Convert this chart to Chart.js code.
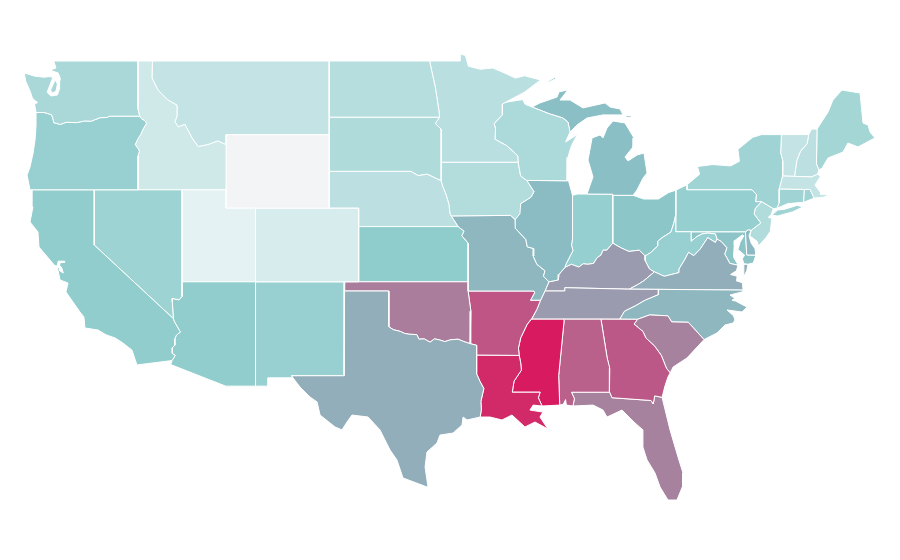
<!DOCTYPE html>
<html lang="en">
<head>
  <meta charset="UTF-8" />
  <title>US states choropleth</title>
  <script src="https://cdn.jsdelivr.net/npm/chart.js"></script>
  <style>
    html, body { margin: 0; padding: 0; background: #fff; }
    canvas { display: block; }
  </style>
</head>
<body>
  <canvas id="myChart" width="900" height="560"></canvas>
  <script>
    // shared borders, [lon, lat]
    const columbia = [[-123.95,46.2],[-123.4,46.2],[-123.17,46.15],[-122.9,46.08],[-122.8,45.87],[-122.75,45.65],[-122.3,45.55],[-121.9,45.67],[-121.2,45.65],[-120.65,45.74],[-120.2,45.73],[-119.6,45.92],[-119.12,45.93],[-118.98,46.0],[-116.92,46.0]];
    const snake = [[-116.92,46.0],[-116.78,45.85],[-116.55,45.75],[-116.46,45.6],[-116.67,45.32],[-116.85,45.0],[-117.05,44.75],[-117.22,44.45],[-117.03,44.25],[-116.93,44.1],[-117.03,43.83],[-117.03,42.0]];
    const idahoMontana = [[-111.05,44.45],[-111.6,44.65],[-112.3,44.45],[-112.95,44.35],[-113.36,44.82],[-113.84,45.55],[-114.3,45.42],[-114.52,45.7],[-114.38,46.0],[-114.38,46.6],[-115.0,46.88],[-115.67,47.42],[-116.08,48.08],[-116.05,49.0]];
    const coloradoRiver = [[-114.63,35.0],[-114.57,34.85],[-114.15,34.27],[-114.42,34.1],[-114.53,33.9],[-114.53,33.55],[-114.72,33.4],[-114.7,33.1],[-114.5,33.0],[-114.72,32.72]];
    const nevadaArizona = [[-114.04,37.0],[-114.04,36.2],[-114.25,36.02],[-114.72,36.1],[-114.7,35.9],[-114.63,35.0]];
    const redRiver = [[-100.0,34.56],[-99.7,34.4],[-99.2,34.3],[-98.95,34.2],[-98.6,34.15],[-98.1,34.13],[-97.95,33.88],[-97.6,33.9],[-97.2,33.72],[-96.9,33.9],[-96.6,33.85],[-96.2,33.75],[-95.8,33.85],[-95.3,33.88],[-94.9,33.75],[-94.48,33.64]];
    const sabine = [[-94.04,33.02],[-94.04,32.0],[-93.82,31.6],[-93.55,31.2],[-93.75,30.5],[-93.72,30.05],[-93.8,29.65]];
    const redRiverNorth = [[-97.23,49.0],[-97.1,48.5],[-96.85,47.6],[-96.6,46.3],[-96.56,45.94],[-96.85,45.6],[-96.45,45.3],[-96.45,43.5]];
    const stCroix = [[-92.3,46.66],[-92.29,46.08],[-92.85,45.6],[-92.75,45.3],[-92.8,44.75],[-92.0,44.4],[-91.25,43.85],[-91.22,43.5]];
    const upperMiss = [[-91.22,43.5],[-91.05,42.75],[-90.64,42.51],[-90.15,41.9],[-90.35,41.6],[-91.05,41.25],[-91.1,40.7],[-91.42,40.38]];
    const midMiss = [[-91.42,40.38],[-91.4,39.9],[-90.7,39.3],[-90.6,38.9],[-90.15,38.8],[-90.2,38.4],[-89.95,37.95],[-89.4,37.6],[-89.5,37.3],[-89.13,37.0]];
    const lowerMissA = [[-89.7,36.0],[-89.95,35.5],[-90.3,35.0],[-90.6,34.7],[-91.05,33.95],[-91.2,33.4],[-91.15,33.0]];
    const lowerMissB = [[-91.15,33.0],[-91.05,32.6],[-91.0,32.2],[-91.5,31.6],[-91.62,31.0],[-89.73,31.0],[-89.85,30.7],[-89.6,30.25]];
    const ohioEast = [[-80.52,40.64],[-80.65,40.2],[-80.85,39.7],[-81.45,39.4],[-81.75,39.2],[-81.75,38.95],[-82.2,38.6],[-82.6,38.4]];
    const ohioMid = [[-82.6,38.4],[-83.0,38.72],[-83.7,38.65],[-84.25,38.85],[-84.8,39.1]];
    const ohioWest = [[-84.8,39.1],[-85.2,38.72],[-85.45,38.72],[-85.6,38.45],[-85.87,38.3],[-86.1,38.0],[-86.5,37.95],[-86.8,37.98],[-87.1,37.8],[-87.6,37.95],[-88.05,37.78]];
    const ohioLow = [[-88.05,37.78],[-88.45,37.4],[-88.5,37.1],[-89.13,37.0]];
    const wabash = [[-88.05,37.78],[-87.95,38.0],[-87.5,38.7],[-87.6,39.0],[-87.53,39.35],[-87.53,41.7]];
    const kyVa = [[-83.68,36.6],[-83.1,36.85],[-82.7,37.05],[-81.97,37.54]];
    const vaWv = [[-81.97,37.54],[-81.3,37.3],[-80.3,37.5],[-80.3,37.7],[-79.95,38.15],[-79.65,38.6],[-79.3,38.42],[-78.87,38.77],[-78.35,39.4],[-77.83,39.14],[-77.72,39.32]];
    const potomac = [[-77.72,39.32],[-77.45,39.2],[-77.05,38.85],[-77.2,38.5],[-77.05,38.3],[-76.85,38.0],[-76.3,37.9]];
    const wvMd = [[-77.72,39.32],[-77.83,39.6],[-78.35,39.65],[-78.75,39.6],[-79.1,39.45],[-79.48,39.2],[-79.48,39.72]];
    const tnNc = [[-81.68,36.59],[-81.7,36.3],[-82.6,36.0],[-83.25,35.7],[-84.0,35.4],[-84.32,34.97]];
    const ncSc = [[-83.12,34.96],[-82.3,35.2],[-81.05,35.15],[-80.8,34.82],[-79.67,34.8],[-78.6,33.86]];
    const savannah = [[-83.12,34.96],[-83.35,34.7],[-83.05,34.5],[-82.75,34.3],[-82.55,33.95],[-81.95,33.5],[-81.5,33.0],[-81.15,32.3],[-80.9,32.05]];
    const gaFl = [[-81.45,30.72],[-81.95,30.8],[-82.05,30.36],[-82.2,30.55],[-84.85,30.7],[-85.0,31.0]];
    const chattahoochee = [[-85.0,31.0],[-85.05,31.55],[-85.0,32.3],[-85.18,32.87],[-85.6,34.97]];
    const alMs = [[-88.2,34.97],[-88.1,34.9],[-88.47,31.9],[-88.4,30.3]];
    const paNj = [[-74.7,41.36],[-75.13,40.98],[-75.2,40.68],[-74.75,40.2],[-75.4,39.8]];
    const vtNh = [[-71.5,45.0],[-71.6,44.5],[-72.05,44.1],[-72.3,43.6],[-72.46,42.73]];
    const nyVt = [[-73.35,45.0],[-73.4,44.0],[-73.25,43.55],[-73.27,42.75]];

    const back = line => [...line].reverse();

    // one or more outlines per state
    const WA = [
      [[-124.75,48.35],[-124.0,48.17],[-123.4,48.12],[-123.1,48.15],[-122.8,48.13],[-123.1,47.5],[-123.2,47.3],[-122.95,47.1],[-122.5,47.15],[-122.35,47.5],[-122.35,47.85],[-122.3,48.05],[-122.45,48.35],[-123.0,48.5],[-122.6,48.62],[-122.75,49.0],[-117.03,49.0],[-117.04,46.42],...back(columbia),[-124.05,46.65],[-123.85,46.75],[-124.1,46.9],[-124.2,47.0],[-124.35,47.35],[-124.65,47.9]],
      [[-122.65,47.98],[-122.5,47.75],[-122.6,47.35],[-122.9,47.25],[-122.95,47.45]]
    ];
    const OR = [[...columbia,...snake,[-120.0,42.0],[-124.36,42.0],[-124.56,42.8],[-124.36,43.24],[-124.15,44.0],[-124.02,44.7],[-123.95,45.5]]];
    const CA = [[[-124.21,42.0],[-120.0,42.0],[-120.0,39.0],...coloradoRiver,[-117.1,32.48],[-117.44,33.29],[-118.1,33.7],[-118.59,33.95],[-119.2,34.12],[-119.74,34.38],[-120.63,34.49],[-120.7,35.09],[-120.97,35.36],[-121.92,36.45],[-121.78,36.93],[-122.32,37.1],[-122.5,37.78],[-122.38,37.8],[-122.35,37.6],[-122.1,37.48],[-122.2,37.75],[-122.35,37.9],[-122.3,38.05],[-122.0,38.05],[-122.0,38.12],[-122.45,38.12],[-122.52,37.85],[-122.7,37.9],[-123.0,38.18],[-123.75,38.89],[-123.82,39.71],[-124.36,40.25],[-124.16,41.07],[-124.22,41.88]]];
    const NV = [[[-120.0,42.0],[-114.04,42.0],...nevadaArizona,[-120.0,39.0]]];
    const AZ = [[[-114.04,37.0],[-109.05,37.0],[-109.05,31.33],[-111.07,31.33],[-114.81,32.5],...back(coloradoRiver),...back(nevadaArizona)]];
    const UT = [[[-114.04,42.0],[-111.05,42.0],[-111.05,41.0],[-109.05,41.0],[-109.05,37.0],[-114.04,37.0]]];
    const ID = [[[-117.03,42.0],[-111.05,42.0],...idahoMontana,[-117.03,49.0],[-117.04,46.42],...snake]];
    const MT = [[[-116.05,49.0],[-104.05,49.0],[-104.05,45.0],[-111.05,45.0],...idahoMontana]];
    const WY = [[[-111.05,45.0],[-104.05,45.0],[-104.05,41.0],[-111.05,41.0]]];
    const CO = [[[-109.05,41.0],[-102.05,41.0],[-102.05,37.0],[-109.05,37.0]]];
    const NM = [[[-109.05,37.0],[-103.0,37.0],[-103.04,31.9],[-106.62,31.9],[-106.53,31.78],[-108.2,31.78],[-108.2,31.33],[-109.05,31.33]]];
    const TX = [[[-106.62,31.9],[-103.04,31.9],[-103.04,36.5],[-100.0,36.5],...redRiver,[-94.04,33.55],...sabine,[-94.69,29.49],[-94.96,29.65],[-95.03,29.22],[-95.64,28.78],[-96.53,28.67],[-96.73,28.24],[-97.41,27.75],[-97.54,26.93],[-97.34,25.85],[-97.41,25.85],[-99.04,26.34],[-99.45,27.32],[-99.92,27.86],[-100.6,28.95],[-101.41,29.65],[-102.5,29.76],[-102.84,29.38],[-103.18,28.95],[-103.65,29.11],[-104.67,29.76],[-104.87,30.47],[-105.35,30.74],[-106.03,31.28]]];
    const OK = [[[-103.0,37.0],[-94.62,37.0],[-94.62,36.5],[-94.43,35.4],...back(redRiver),[-100.0,36.5],[-103.04,36.5]]];
    const KS = [[[-102.05,40.0],[-95.3,40.0],[-94.9,39.75],[-95.05,39.5],[-94.62,39.1],[-94.62,37.0],[-102.05,37.0]]];
    const NE = [[[-104.05,43.0],[-98.5,43.0],[-98.0,42.77],[-97.4,42.85],[-96.45,42.49],[-96.35,42.2],[-96.1,41.7],[-95.92,41.2],[-95.85,40.7],[-95.77,40.58],[-95.3,40.0],[-102.05,40.0],[-102.05,41.0],[-104.05,41.0]]];
    const SD = [[[-104.05,45.94],[-96.56,45.94],[-96.85,45.6],[-96.45,45.3],[-96.45,42.49],[-97.4,42.85],[-98.0,42.77],[-98.5,43.0],[-104.05,43.0]]];
    const ND = [[[-104.05,49.0],[-97.23,49.0],[-97.1,48.5],[-96.85,47.6],[-96.6,46.3],[-96.56,45.94],[-104.05,45.94]]];
    const MN = [[[-97.23,49.0],[-95.15,49.0],[-95.15,49.38],[-94.8,49.3],[-94.6,48.72],[-93.8,48.55],[-92.95,48.62],[-92.15,48.35],[-91.4,48.07],[-90.8,48.2],[-89.7,47.97],[-90.8,47.3],[-92.1,46.75],...stCroix,...back(redRiverNorth)]];
    const WI = [[[-92.1,46.75],[-91.2,46.87],[-90.9,46.9],[-90.75,46.65],[-90.28,46.5],[-89.1,46.13],[-88.18,45.9],[-87.84,45.68],[-87.7,45.14],[-88.0,44.6],[-87.4,44.9],[-87.15,45.1],[-87.6,44.4],[-87.85,43.75],[-87.9,42.49],[-90.64,42.51],[-91.05,42.75],...back(stCroix)]];
    const MI = [
      [[-86.55,41.77],[-86.14,42.7],[-86.48,43.62],[-86.2,44.82],[-85.66,44.98],[-85.46,44.82],[-85.19,45.36],[-84.78,45.74],[-83.97,45.63],[-83.36,44.82],[-83.42,44.33],[-83.97,43.78],[-83.76,43.57],[-83.15,43.89],[-82.68,44.0],[-82.47,42.91],[-82.74,42.64],[-83.15,41.99],[-83.42,41.7],[-84.8,41.7],[-84.8,41.76]],
      [[-90.28,46.5],[-89.74,46.72],[-88.58,47.04],[-88.45,47.32],[-87.84,47.43],[-88.38,46.88],[-87.7,46.88],[-86.82,46.45],[-85.32,46.72],[-84.98,46.5],[-84.3,46.39],[-84.1,46.07],[-84.78,46.07],[-85.46,46.07],[-86.55,45.9],[-87.23,45.52],[-87.7,45.14],[-87.84,45.68],[-88.18,45.9],[-89.1,46.13]],
      [[-89.15,47.85],[-88.65,48.05],[-88.75,48.1],[-89.2,47.9]],
      [[-83.9,46.05],[-83.5,46.0],[-83.6,45.93],[-83.9,45.95]]
    ];
    const IA = [[[-96.45,43.5],...upperMiss,[-91.73,40.61],[-95.77,40.58],[-95.85,40.7],[-95.92,41.2],[-96.1,41.7],[-96.35,42.2],[-96.45,42.49]]];
    const IL = [[[-90.64,42.51],[-87.8,42.49],[-87.53,41.7],...back(wabash).slice(1),...ohioLow,...back(midMiss).slice(1),[-91.05,41.25],[-90.35,41.6],[-90.15,41.9]]];
    const MO = [[[-95.77,40.58],[-91.73,40.61],...midMiss,[-89.4,36.5],[-89.7,36.0],[-90.37,36.0],[-90.1,36.4],[-90.15,36.5],[-94.62,36.5],[-94.62,39.1],[-95.05,39.5],[-94.9,39.75],[-95.3,40.0]]];
    const AR = [[[-94.62,36.5],[-90.15,36.5],[-90.1,36.4],[-90.37,36.0],...lowerMissA,[-94.04,33.02],[-94.04,33.55],[-94.48,33.64],[-94.43,35.4]]];
    const LA = [[...lowerMissB,[-90.2,30.3],[-90.42,30.03],[-89.54,29.92],[-89.74,29.65],[-89.2,29.0],[-90.08,29.38],[-90.76,29.11],[-91.64,29.76],[-92.32,29.49],[-93.13,29.65],...back(sabine)]];
    const MS = [[[-90.3,34.97],[-88.2,34.97],...alMs.slice(1),[-89.6,30.25],...back(lowerMissB).slice(1),[-91.2,33.4],[-91.05,33.95],[-90.6,34.7]]];
    const AL = [[[-88.2,34.97],[-85.6,34.97],...back(chattahoochee).slice(1),[-87.6,31.0],[-87.4,30.65],[-87.5,30.25],[-87.95,30.3],[-88.0,30.6],[-88.15,30.35],[-88.4,30.3],...back(alMs).slice(1)]];
    const GA = [[[-85.6,34.97],[-83.12,34.96],...savannah.slice(1),[-81.05,31.83],[-81.25,31.35],...gaFl,...chattahoochee.slice(1)]];
    const FL = [[[-87.6,31.0],...back(gaFl),[-80.91,28.95],[-80.37,27.48],[-80.03,26.61],[-80.05,25.9],[-80.44,25.14],[-81.05,25.14],[-81.59,25.85],[-81.93,26.61],[-82.47,27.32],[-82.75,28.02],[-82.75,28.95],[-83.29,29.33],[-84.17,30.03],[-85.19,29.65],[-85.46,30.03],[-86.14,30.3],[-87.5,30.25],[-87.4,30.65]]];
    const SC = [[...ncSc,[-79.76,32.86],[-80.7,32.37],...back(savannah)]];
    const NC = [[[-84.32,34.97],[-83.12,34.96],...ncSc.slice(1),[-77.72,34.22],[-77.18,34.65],[-76.63,34.76],[-76.5,34.92],[-76.6,35.15],[-77.04,35.47],[-76.02,35.36],[-75.68,35.63],[-75.96,35.74],[-76.45,35.95],[-76.7,36.0],[-76.5,36.1],[-76.84,36.28],[-76.02,36.45],[-75.95,36.55],...tnNc.slice(0,-1)]];
    const TN = [[[-89.4,36.5],[-88.07,36.5],[-88.05,36.68],[-83.68,36.6],...tnNc,[-85.6,34.97],[-88.2,34.97],[-90.3,34.97],[-89.95,35.5],[-89.7,36.0]]];
    const VA = [
      [[-75.95,36.55],[-81.68,36.59],...kyVa,...vaWv.slice(1),...potomac.slice(1),[-76.4,37.6],[-76.8,37.4],[-76.35,37.3],[-76.4,37.05],[-76.0,36.95]],
      [[-75.95,37.2],[-75.9,37.95],[-75.62,37.95],[-75.7,37.6]]
    ];
    const WV = [[...ohioEast,[-82.6,38.17],[-82.3,37.7],...vaWv,...wvMd.slice(1),[-80.52,39.72]]];
    const KY = [[[-89.4,36.5],[-88.07,36.5],[-88.05,36.68],...kyVa,[-82.3,37.7],[-82.6,38.17],...ohioMid,...ohioWest.slice(1),...ohioLow.slice(1)]];
    const IN = [[[-87.53,41.7],[-87.2,41.77],[-86.55,41.77],[-84.8,41.76],[-84.8,39.1],...ohioWest.slice(1),...wabash.slice(1)]];
    const OH = [[[-84.8,41.7],[-83.42,41.7],[-82.7,41.5],[-81.7,41.5],[-81.0,41.85],[-80.52,41.98],...ohioEast,...ohioMid.slice(1)]];
    const PA = [[[-80.52,41.98],[-79.76,42.27],[-79.76,42.0],[-75.35,42.0],[-75.05,41.75],[-75.1,41.35],...paNj,[-75.6,39.83],[-75.79,39.72],[-79.48,39.72],[-80.52,39.72]]];
    const NY = [
      [[-79.76,42.27],[-78.9,42.85],[-79.05,43.27],[-78.0,43.37],[-76.8,43.3],[-76.2,43.55],[-76.3,44.2],[-75.3,44.85],[-74.7,45.0],...nyVt,[-73.5,42.05],[-73.5,41.3],[-73.65,41.0],[-73.9,40.98],[-74.7,41.36],[-75.1,41.35],[-75.05,41.75],[-75.35,42.0],[-79.76,42.0]],
      [[-74.0,40.62],[-73.6,40.9],[-73.1,40.95],[-72.3,41.15],[-71.85,41.08],[-72.6,40.8],[-73.6,40.58]]
    ];
    const NJ = [[[-74.7,41.36],[-73.9,40.98],[-74.05,40.65],[-74.25,40.5],[-74.0,40.45],[-74.1,39.75],[-74.4,39.4],[-74.9,38.95],[-75.0,39.2],[-75.5,39.5],...back(paNj)]];
    const DE = [[[-75.79,39.72],[-75.6,39.83],[-75.4,39.8],[-75.55,39.5],[-75.4,39.1],[-75.14,38.8],[-75.08,38.45],[-75.7,38.46]]];
    const MD = [[[-79.48,39.72],[-75.79,39.72],[-75.7,38.46],[-75.08,38.45],[-75.25,38.03],[-75.62,37.95],[-75.9,37.98],[-76.0,38.25],[-75.85,38.45],[-76.3,38.75],[-76.15,39.15],[-75.9,39.5],[-76.0,39.55],[-76.5,39.25],[-76.55,39.0],[-76.6,38.35],[-76.35,38.0],[-76.3,37.9],...back(potomac).slice(1),...wvMd.slice(1,-1)]];
    const MA = [[[-73.5,42.05],[-73.27,42.75],[-72.46,42.73],[-71.3,42.7],[-70.9,42.85],[-70.7,42.72],[-71.07,42.26],[-70.7,41.85],[-70.7,41.75],[-70.05,41.75],[-70.5,41.6],[-71.12,41.55],[-71.2,41.67],[-71.4,42.02],[-71.8,42.02]]];
    const CT = [[[-73.5,42.05],[-71.8,42.02],[-71.85,41.32],[-72.9,41.25],[-73.65,41.0],[-73.5,41.3]]];
    const RI = [[[-71.8,42.02],[-71.4,42.02],[-71.2,41.67],[-71.12,41.55],[-71.85,41.32]]];
    const VT = [[[-73.35,45.0],...vtNh,...back(nyVt).slice(0,-1)]];
    const NH = [[[-71.5,45.0],[-71.3,45.3],[-70.93,45.3],[-70.97,43.4],[-70.8,43.08],[-70.9,42.85],[-71.3,42.7],...back(vtNh)]];
    const ME = [[[-70.93,45.3],[-70.18,46.23],[-69.85,46.88],[-69.24,47.42],[-68.01,47.26],[-67.81,45.63],[-67.47,45.52],[-67.33,45.14],[-67.0,44.82],[-68.15,44.33],[-68.83,44.54],[-69.17,44.05],[-70.18,43.73],[-70.59,43.18],[-70.8,43.08],[-70.97,43.4]]];

    const states = ['WA','OR','CA','NV','AZ','UT','ID','MT','WY','CO','NM','TX','OK','KS','NE','SD','ND','MN','WI','MI','IA','IL','MO','AR','LA','MS','AL','GA','FL','SC','NC','TN','VA','WV','KY','IN','OH','PA','NY','NJ','DE','MD','MA','CT','RI','VT','NH','ME'];
    const outlines = [WA,OR,CA,NV,AZ,UT,ID,MT,WY,CO,NM,TX,OK,KS,NE,SD,ND,MN,WI,MI,IA,IL,MO,AR,LA,MS,AL,GA,FL,SC,NC,TN,VA,WV,KY,IN,OH,PA,NY,NJ,DE,MD,MA,CT,RI,VT,NH,ME];
    const values = [29,36,39,34,39,6,14.5,19,0,11,36,50,67,39.5,22,27,24,23,28,44,25.5,45,47,80,95,100,76.5,79,65.5,65.5,47,57,50,36,57,37,42,37,33,26,46,42.5,19,33,33,19,22,31];

    // colour scale: near white -> teal -> grey -> pink
    const scaleStops = [0, 6, 40, 44, 50, 57, 66, 80, 100];
    const scaleColors = [[243,244,246],[228,242,243],[142,204,204],[138,191,198],[146,174,186],[155,155,176],[168,128,158],[190,85,133],[216,27,96]];

    function colorFor(v) {
      let i = 0;
      while (i < scaleStops.length - 2 && v > scaleStops[i + 1]) i++;
      const t = (v - scaleStops[i]) / (scaleStops[i + 1] - scaleStops[i]);
      const c = scaleColors[i].map((a, k) => Math.round(a + (scaleColors[i + 1][k] - a) * t));
      return `rgb(${c[0]},${c[1]},${c[2]})`;
    }

    const datasets = [];
    states.forEach((name, i) => {
      outlines[i].forEach(ring => {
        datasets.push({
          label: name,
          data: [...ring, ring[0]].map(p => ({ x: p[0], y: p[1] })),
          showLine: true,
          fill: 'shape',
          tension: 0,
          pointRadius: 0,
          borderWidth: 1,
          borderColor: '#ffffff',
          backgroundColor: colorFor(values[i])
        });
      });
    });

    new Chart(document.getElementById('myChart'), {
      type: 'scatter',
      data: { datasets },
      options: {
        responsive: false,
        animation: false,
        layout: { padding: 0 },
        plugins: { legend: { display: false }, tooltip: { enabled: false } },
        scales: {
          x: { display: false, min: -126.397, max: -65.298 },
          y: { display: false, min: 21.881, max: 52.315 }
        }
      }
    });
  </script>
</body>
</html>
